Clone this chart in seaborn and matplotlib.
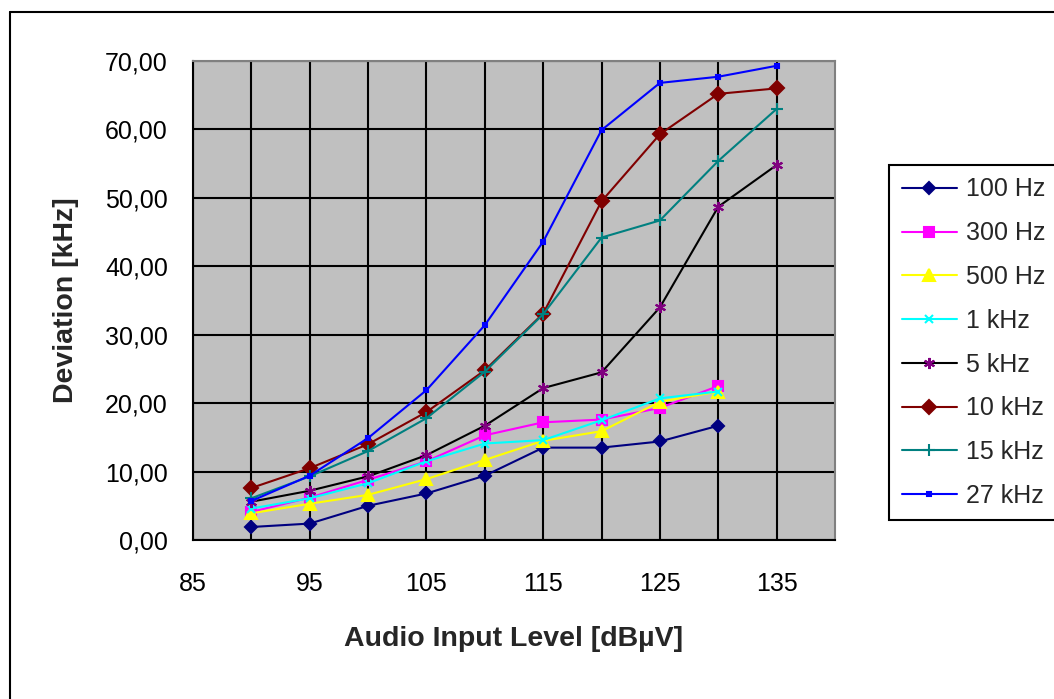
import numpy as np
import pandas as pd
import matplotlib
matplotlib.use("Agg")
import matplotlib.pyplot as plt
from matplotlib.lines import Line2D
from matplotlib.ticker import FuncFormatter, MultipleLocator, FixedLocator
import seaborn as sns

# Audio input level (dBuV)
level_short = [90, 95, 100, 105, 110, 115, 120, 125, 130]
level_long = [90, 95, 100, 105, 110, 115, 120, 125, 130, 135]

# Deviation in kHz
dev_100hz = [1.9, 2.4, 5.0, 6.8, 9.4, 13.5, 13.5, 14.4, 16.7]
dev_300hz = [4.1, 6.2, 8.8, 11.5, 15.3, 17.2, 17.6, 19.3, 22.5]
dev_500hz = [3.9, 5.3, 6.6, 8.9, 11.7, 14.5, 15.9, 20.2, 21.7]
dev_1khz = [4.6, 6.1, 8.3, 11.5, 14.1, 14.6, 17.5, 20.7, 21.7]
dev_5khz = [5.6, 7.2, 9.3, 12.4, 16.7, 22.2, 24.5, 34.0, 48.7, 54.8]
dev_10khz = [7.6, 10.5, 14.0, 18.7, 24.8, 33.1, 49.5, 59.3, 65.2, 66.0]
dev_15khz = [6.1, 9.3, 13.0, 17.8, 24.6, 33.0, 44.2, 46.7, 55.4, 63.0]
dev_27khz = [5.7, 9.4, 14.9, 21.9, 31.4, 43.6, 59.9, 66.8, 67.7, 69.3]

series = [
    # label, x, y, line colour, marker, marker colour, marker size
    ("100 Hz", level_short, dev_100hz, "#000080", "D", "#000080", 6),
    ("300 Hz", level_short, dev_300hz, "#FF00FF", "s", "#FF00FF", 7),
    ("500 Hz", level_short, dev_500hz, "#FFFF00", "^", "#FFFF00", 9),
    ("1 kHz", level_short, dev_1khz, "#00FFFF", "x", "#00FFFF", 6),
    ("5 kHz", level_long, dev_5khz, "#000000", (6, 2, 0), "#800080", 8),
    ("10 kHz", level_long, dev_10khz, "#800000", "D", "#800000", 7),
    ("15 kHz", level_long, dev_15khz, "#008080", "+", "#008080", 8),
    ("27 kHz", level_long, dev_27khz, "#0000FF", "s", "#0000FF", 3),
]

sns.set_style("white")
plt.rcParams["font.family"] = ["Liberation Sans", "DejaVu Sans"]

W, H = 1054, 699
fig = plt.figure(figsize=(W / 100, H / 100), dpi=100)
ax = fig.add_axes([193 / W, 1 - 540 / H, (835 - 193) / W, (540 - 61) / H])
ax.set_facecolor("#C0C0C0")

for name, xs, ys, lc, mk, mc, ms in series:
    df = pd.DataFrame({"level": xs, "dev": ys})
    sns.lineplot(data=df, x="level", y="dev", ax=ax, color=lc, linewidth=1.5,
                 marker=mk, markersize=ms, markerfacecolor=mc,
                 markeredgecolor=mc, markeredgewidth=1.5, label=name)

ax.set_xlim(85, 140)
ax.set_ylim(0, 70)
ax.xaxis.set_major_locator(FixedLocator([85, 95, 105, 115, 125, 135]))
ax.xaxis.set_minor_locator(FixedLocator([90, 100, 110, 120, 130]))
ax.yaxis.set_major_locator(MultipleLocator(10))
ax.yaxis.set_major_formatter(FuncFormatter(lambda v, p: f"{v:.2f}".replace(".", ",")))

ax.grid(True, which="both", color="black", linewidth=1.5)
ax.set_axisbelow(True)
ax.tick_params(axis="both", which="major", direction="out", length=7,
               width=1.5, color="black", labelsize=18, labelcolor="black")
ax.tick_params(axis="y", pad=11)
ax.tick_params(axis="x", pad=16)
ax.tick_params(axis="x", which="minor", length=0)

for side in ["left", "bottom"]:
    ax.spines[side].set_color("black")
    ax.spines[side].set_linewidth(1.5)
for side in ["top", "right"]:
    ax.spines[side].set_color("#808080")
    ax.spines[side].set_linewidth(1.5)

ax.set_xlabel("Audio Input Level [dBµV]", fontsize=20.5, fontweight="bold", labelpad=22)
ax.set_ylabel("Deviation [kHz]", fontsize=20.5, fontweight="bold", labelpad=19)

leg = ax.legend(loc="upper left", bbox_to_anchor=(889 / W, 1 - 165 / H),
                bbox_transform=fig.transFigure, borderaxespad=0,
                fontsize=18, frameon=True, fancybox=False, framealpha=1,
                edgecolor="black", handlelength=2.2, handletextpad=0.4,
                labelspacing=0.79, borderpad=0.5)
leg.get_frame().set_linewidth(1.5)

# outer chart frame (left and top edges visible)
fig.add_artist(Line2D([10 / W, 10 / W], [-0.1, 1 - 12 / H], color="black", linewidth=1.5,
                      transform=fig.transFigure))
fig.add_artist(Line2D([10 / W, 1.1], [1 - 12 / H, 1 - 12 / H], color="black", linewidth=1.5,
                      transform=fig.transFigure))

fig.savefig("out.png", dpi=100)
